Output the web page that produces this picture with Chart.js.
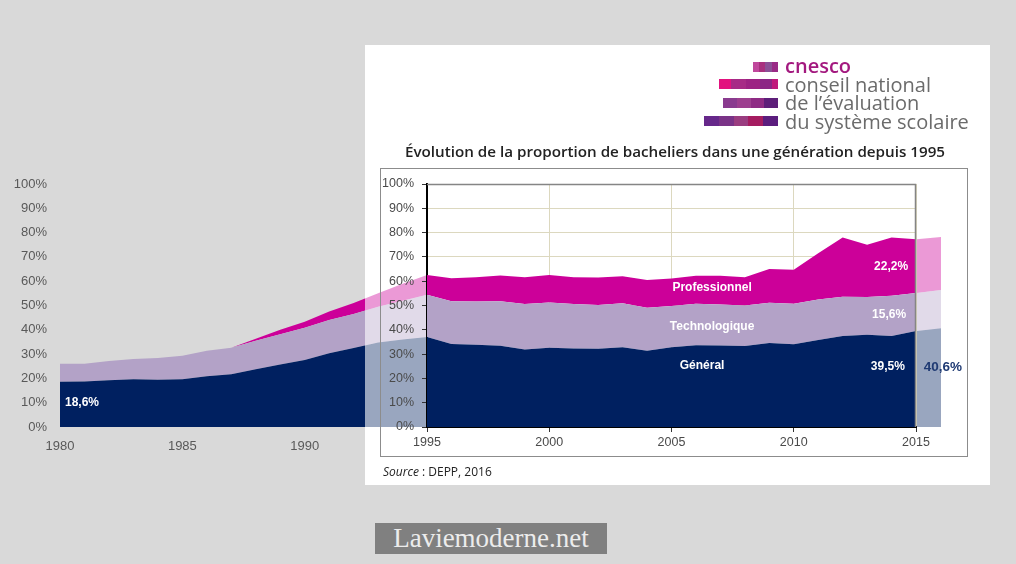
<!DOCTYPE html>
<html lang="fr">
<head>
<meta charset="utf-8">
<title>Évolution de la proportion de bacheliers dans une génération</title>
<script src="https://cdn.jsdelivr.net/npm/chart.js@4.4.1/dist/chart.umd.min.js"></script>
<style>
  html, body { margin: 0; padding: 0; }
  body { width: 1016px; height: 564px; background: #d9d9d9; position: relative; overflow: hidden; font-family: 'Liberation Sans', Arial, sans-serif; }
  canvas { display: block; }
  #bgChart { position: absolute; left: 0; top: 0; }
  #panel { position: absolute; left: 365px; top: 45px; width: 625px; height: 440px; background: #fff; overflow: hidden; }
  #fadeChart { position: absolute; left: -365px; top: -45px; }
  #innerBox { position: absolute; left: 15px; top: 123px; width: 586px; height: 287px; border: 1px solid #8c8c8c; }
  #innerChart { position: absolute; left: 0; top: 0; }
  .title { position: absolute; left: 0; top: 96px; width: 620px; text-align: center; font: 600 15.2px 'Open Sans', sans-serif; color: #222; }
  .source { position: absolute; left: 18px; top: 418px; font: 12px 'Open Sans', sans-serif; color: #222; }
  .source i { font-style: italic; }
  .bar { position: absolute; height: 10px; }
  .logo { position: absolute; left: 785px; font: 500 20px 'Open Sans', sans-serif; color: #6b6b6b; line-height: 20px; white-space: nowrap; }
  .logo.cnesco { color: #a3197f; font-weight: 600; }
  .wm { position: absolute; left: 375px; top: 523px; width: 232px; height: 31px; background: #808080; color: #ececec;
        font: 27px 'Liberation Serif', 'DejaVu Serif', serif; line-height: 31px; text-align: center; }
</style>
</head>
<body>
<canvas id="bgChart" width="1016" height="564"></canvas>
<div id="panel">
  <canvas id="fadeChart" width="1016" height="564"></canvas>
  <div id="innerBox"></div>
  <canvas id="innerChart" width="625" height="440"></canvas>
  <div class="title">Évolution de la proportion de bacheliers dans une génération depuis 1995</div>
  <div class="source"><i>Source</i> : DEPP, 2016</div>
</div>

<div class="bar" style="left:753px;top:62px;width:25px;background:linear-gradient(90deg,#c0489c 0 25%,#a8307f 25% 50%,#8b4f96 50% 75%,#9a2a86 75%)"></div>
<div class="bar" style="left:719px;top:79px;width:59px;background:linear-gradient(90deg,#e2127e 0 20%,#a72a86 20% 46%,#9d2283 46% 70%,#8c2685 70% 90%,#c0197c 90%)"></div>
<div class="bar" style="left:723px;top:98px;width:55px;background:linear-gradient(90deg,#8a3b8f 0 25%,#9d3f8f 25% 50%,#8e2b84 50% 75%,#5d1e79 75%)"></div>
<div class="bar" style="left:704px;top:116px;width:74px;background:linear-gradient(90deg,#66288a 0 20%,#7a3387 20% 40%,#9a3d80 40% 60%,#a51c60 60% 80%,#5b1d7e 80%)"></div>
<div class="logo cnesco" style="top:56px">cnesco</div>
<div class="logo" style="top:75px">conseil national</div>
<div class="logo" style="top:93px">de l’évaluation</div>
<div class="logo" style="top:112px">du système scolaire</div>

<div class="wm">Laviemoderne.net</div>

<script>
// Années et proportions (% d'une génération)
const YEARS = [
  1980, 1981, 1982, 1983, 1984, 1985, 1986, 1987, 1988, 1989,
  1990, 1991, 1992, 1993, 1994, 1995, 1996, 1997, 1998, 1999,
  2000, 2001, 2002, 2003, 2004, 2005, 2006, 2007, 2008, 2009,
  2010, 2011, 2012, 2013, 2014, 2015, 2016,
];
const GENERAL = [
  18.6, 18.7, 19.2, 19.6, 19.4, 19.6, 20.9, 21.7, 23.8, 25.7,
  27.6, 30.4, 32.5, 34.8, 36.0, 37.0, 34.2, 33.8, 33.4, 31.9,
  32.6, 32.3, 32.2, 32.8, 31.4, 32.8, 33.6, 33.5, 33.3, 34.6,
  34.1, 35.8, 37.5, 38.0, 37.5, 39.5, 40.6,
];
const TECHNO = [
  7.4, 7.3, 8.0, 8.4, 9.0, 9.7, 10.5, 10.9, 11.7, 12.5,
  13.2, 13.6, 14.0, 14.7, 16.0, 17.4, 17.6, 17.8, 18.4, 18.7,
  18.6, 18.3, 18.0, 18.1, 17.7, 17.0, 17.1, 16.9, 16.7, 16.5,
  16.6, 16.7, 16.1, 15.5, 16.5, 15.6, 15.8,
];
const PRO = [
  0, 0, 0, 0, 0, 0, 0, 0, 0.8, 1.8,
  2.5, 3.5, 4.5, 5.5, 7.0, 8.2, 9.4, 10.0, 10.5, 11.0,
  11.4, 11.0, 11.3, 11.1, 11.4, 11.3, 11.5, 11.8, 11.6, 13.9,
  14.0, 19.0, 24.4, 21.5, 24.0, 22.2, 21.8,
];
const SERIES_NAMES = ['Général', 'Technologique', 'Professionnel'];
const SERIES = [GENERAL, TECHNO, PRO];
const COLORS = ['#002060', '#b3a2c7', '#cc0099'];

const fmtPct = (v) => v.toFixed(1).replace('.', ',') + '%';
const idx = (yr) => YEARS.indexOf(yr);

function makeDatasets(alpha) {
  return SERIES.map((s, i) => ({
    label: SERIES_NAMES[i],
    data: YEARS.map((yr, j) => ({ x: yr, y: s[j] })),
    backgroundColor: COLORS[i] + alpha,
    borderWidth: 0,
    borderColor: 'transparent',
    pointRadius: 0,
    tension: 0,
    fill: i === 0 ? 'origin' : '-1',
  }));
}

// textes posés en coordonnées des axes
function labelPlugin(items) {
  return {
    id: 'seriesLabels',
    afterDatasetsDraw(chart) {
      const c = chart.ctx, xs = chart.scales.x, ys = chart.scales.y;
      c.save();
      c.textAlign = 'center';
      c.textBaseline = 'middle';
      items.forEach((it) => {
        c.font = `bold ${it.size || 12}px 'Liberation Sans', Arial, sans-serif`;
        c.fillStyle = it.color || '#fff';
        c.fillText(it.text, xs.getPixelForValue(it.x), ys.getPixelForValue(it.y));
      });
      c.restore();
    },
  };
}

// graphique de fond 1980-2016 (et sa copie estompée dans le cadre blanc)
function outerOptions(showTicks) {
  return {
    responsive: false, animation: false,
    layout: { padding: { left: 0, right: 75, top: 184, bottom: 107 } },
    plugins: { legend: { display: false }, tooltip: { enabled: false } },
    scales: {
      x: {
        type: 'linear', min: 1980, max: 2016,
        grid: { display: false, drawTicks: false }, border: { display: false },
        ticks: { display: showTicks, stepSize: 5, padding: 12, color: '#595959', font: { family: 'Liberation Sans', size: 13 }, callback: (v) => String(v) },
        afterFit: (s) => { s.height = 30; },
      },
      y: {
        stacked: true, min: 0, max: 100,
        grid: { display: false, drawTicks: false }, border: { display: false },
        ticks: { display: showTicks, stepSize: 10, padding: 13, color: '#595959', font: { family: 'Liberation Sans', size: 13 }, callback: (v) => v + '%' },
        afterFit: (s) => { s.width = 60; },
      },
    },
  };
}

new Chart(document.getElementById('bgChart'), {
  type: 'line',
  data: { datasets: makeDatasets('') },
  options: outerOptions(true),
  plugins: [labelPlugin([{ text: fmtPct(GENERAL[0]), x: 1980.9, y: 10.2, size: 12 }])],
});

new Chart(document.getElementById('fadeChart'), {
  type: 'line',
  data: { datasets: makeDatasets('66') },
  options: outerOptions(false),
});

// graphique DEPP 1995-2015
const plotFrame = {
  id: 'plotFrame',
  beforeDraw(chart) {
    const a = chart.chartArea, c = chart.ctx;
    c.save();
    c.fillStyle = '#fff';
    c.fillRect(a.left, a.top, a.right - a.left, a.bottom - a.top);
    c.restore();
  },
  afterDraw(chart) {
    const a = chart.chartArea, c = chart.ctx;
    c.save();
    c.strokeStyle = '#858585';
    c.lineWidth = 1.5;
    c.beginPath();
    c.moveTo(a.left, a.top + 0.5);
    c.lineTo(a.right - 0.5, a.top + 0.5);
    c.lineTo(a.right - 0.5, a.bottom);
    c.stroke();
    c.restore();
  },
};

const inner2015 = idx(2015), inner2016 = idx(2016);

new Chart(document.getElementById('innerChart'), {
  type: 'line',
  data: { datasets: makeDatasets('') },
  options: {
    responsive: false, animation: false,
    layout: { padding: { left: 0, right: 74, top: 139, bottom: 28 } },
    plugins: { legend: { display: false }, tooltip: { enabled: false } },
    scales: {
      x: {
        type: 'linear', min: 1995, max: 2015,
        grid: { color: '#dcd8bf', tickColor: '#333', tickLength: 5 },
        border: { color: '#000', width: 2 },
        ticks: { stepSize: 5, padding: 3, color: '#4a4a4a', font: { family: 'Liberation Sans', size: 12.5 }, callback: (v) => String(v) },
        afterFit: (s) => { s.height = 30; },
      },
      y: {
        stacked: true, min: 0, max: 100,
        grid: { color: '#dcd8bf', tickColor: '#333', tickLength: 5 },
        border: { color: '#000', width: 2 },
        ticks: { stepSize: 10, padding: 8, color: '#4a4a4a', font: { family: 'Liberation Sans', size: 12.5 }, callback: (v) => v + '%' },
        afterFit: (s) => { s.width = 62; },
      },
    },
  },
  plugins: [plotFrame, labelPlugin([
    { text: SERIES_NAMES[2], x: 2006.66, y: 57.2 },
    { text: SERIES_NAMES[1], x: 2006.66, y: 41.1 },
    { text: SERIES_NAMES[0], x: 2006.25, y: 25.4 },
    { text: fmtPct(PRO[inner2015]), x: 2013.98, y: 65.9 },
    { text: fmtPct(TECHNO[inner2015]), x: 2013.9, y: 46.1 },
    { text: fmtPct(GENERAL[inner2015]), x: 2013.85, y: 25.0 },
    { text: fmtPct(GENERAL[inner2016]), x: 2016.1, y: 24.6, size: 13.5, color: '#1f3a73' },
  ])],
});
</script>
</body>
</html>
